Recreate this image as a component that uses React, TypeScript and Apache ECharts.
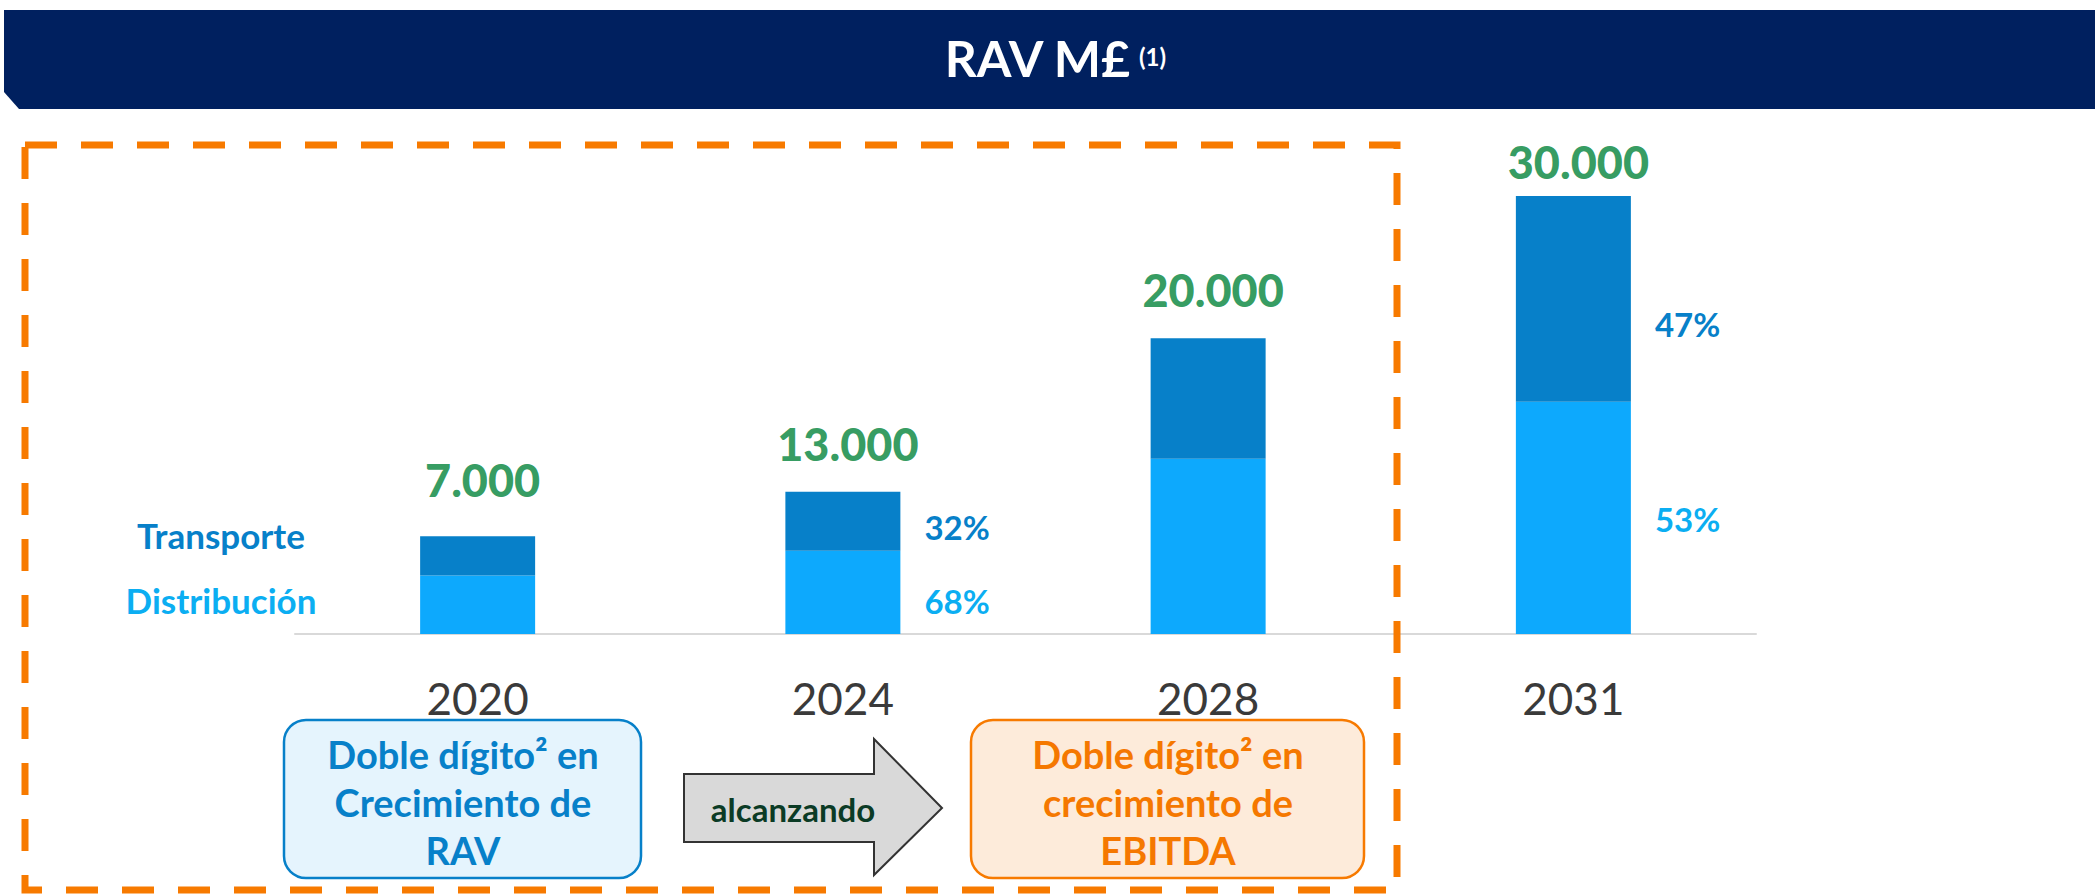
import React, { useEffect, useRef } from "react";
import * as echarts from "echarts";

// ---- data ----
const years = ["2020", "2024", "2028", "2031"];
const distribucion = [4000, 5700, 12000, 15900];
const transporte = [2700, 4050, 8250, 14100];
const totalLabels = ["7.000", "13.000", "20.000", "30.000"];
const transportePct = ["", "32%", "", "47%"];
const distribucionPct = ["", "68%", "", "53%"];

// ---- styles ----
const FONT = "Lato, 'Open Sans', sans-serif";
const C_NAVY = "#00205F";
const C_DARK = "#0780C9";
const C_LIGHT = "#0DA9FD";
const C_LIGHT_TXT = "#0BAEF2";
const C_GREEN = "#008238";
const C_ORANGE = "#F77A00";

const totalLift = [33, 25, 25, 11];
const transPctShift = [0, 6, 0, 25];
const distPctShift = [0, 9, 0, 1];

export default function App() {
  const ref = useRef<HTMLDivElement>(null);

  useEffect(() => {
    if (!ref.current) return;
    const chart = echarts.init(ref.current, undefined, { renderer: "svg" });

    const pctLabel = (color: string) => ({
      position: "right" as const,
      distance: 24,
      color,
      fontSize: 33,
      fontWeight: "bold" as const,
      fontFamily: FONT,
    });

    const boxText = (x: number, text: string, color: string) => ({
      type: "text",
      x,
      y: 802,
      z: 20,
      style: {
        text,
        fill: color,
        fontSize: 38,
        fontWeight: "bold",
        fontFamily: FONT,
        lineHeight: 48,
        align: "center",
        verticalAlign: "middle",
      },
    });

    chart.setOption({
      animation: false,
      backgroundColor: "#ffffff",
      grid: { left: 295, right: 339, top: 196, bottom: 260, containLabel: false },
      xAxis: {
        type: "category",
        data: years,
        axisLine: { lineStyle: { color: "#d9d9d9", width: 2 } },
        axisTick: { show: false },
        axisLabel: {
          margin: 42,
          fontSize: 44,
          color: "#3a3a3a",
          fontFamily: FONT,
        },
      },
      yAxis: {
        type: "value",
        min: 0,
        max: 30000,
        show: false,
        splitLine: { show: false },
      },
      series: [
        {
          name: "Distribución",
          type: "bar",
          stack: "rav",
          barWidth: 115,
          itemStyle: { color: C_LIGHT },
          label: pctLabel(C_LIGHT_TXT),
          data: distribucion.map((v, i) => ({
            value: v,
            label: {
              show: !!distribucionPct[i],
              formatter: distribucionPct[i],
              offset: [0, distPctShift[i]],
            },
          })),
        },
        {
          name: "Transporte",
          type: "bar",
          stack: "rav",
          barWidth: 115,
          itemStyle: { color: C_DARK },
          label: pctLabel(C_DARK),
          data: transporte.map((v, i) => ({
            value: v,
            label: {
              show: !!transportePct[i],
              formatter: transportePct[i],
              offset: [0, transPctShift[i]],
            },
          })),
        },
        {
          name: "Total",
          type: "scatter",
          symbolSize: 1,
          itemStyle: { color: "rgba(0,0,0,0)" },
          z: 10,
          label: {
            show: true,
            position: "top",
            offset: [5, 0],
            color: C_GREEN,
            textBorderWidth: 0,
            fontSize: 45,
            fontWeight: 900,
            fontFamily: FONT,
            formatter: (p: any) => totalLabels[p.dataIndex],
          },
          data: distribucion.map((v, i) => ({
            value: v + transporte[i],
            label: { distance: totalLift[i] },
          })),
        },
      ],
      graphic: [
        {
          type: "polygon",
          z: 1,
          shape: {
            points: [
              [4, 10],
              [2095, 10],
              [2095, 109],
              [19, 109],
              [4, 92],
            ],
          },
          style: { fill: C_NAVY },
        },
        {
          type: "text",
          x: 1130,
          y: 58,
          z: 5,
          style: {
            text: "RAV M£",
            fill: "#ffffff",
            fontSize: 50,
            fontWeight: "bold",
            fontFamily: FONT,
            align: "right",
            verticalAlign: "middle",
          },
        },
        {
          type: "text",
          x: 1139,
          y: 56,
          z: 5,
          style: {
            text: "(1)",
            fill: "#ffffff",
            fontSize: 24,
            fontWeight: "bold",
            fontFamily: FONT,
            align: "left",
            verticalAlign: "middle",
          },
        },
        {
          type: "rect",
          z: 30,
          shape: { x: 25, y: 145, width: 1372, height: 745 },
          style: {
            fill: "none",
            stroke: C_ORANGE,
            lineWidth: 7,
            lineDash: [32, 24],
          },
        },
        {
          type: "text",
          x: 221,
          y: 535,
          z: 5,
          style: {
            text: "Transporte",
            fill: C_DARK,
            fontSize: 35,
            fontWeight: "bold",
            fontFamily: FONT,
            align: "center",
            verticalAlign: "middle",
          },
        },
        {
          type: "text",
          x: 221,
          y: 600,
          z: 5,
          style: {
            text: "Distribución",
            fill: C_LIGHT_TXT,
            fontSize: 35,
            fontWeight: "bold",
            fontFamily: FONT,
            align: "center",
            verticalAlign: "middle",
          },
        },
        {
          type: "rect",
          z: 15,
          shape: { x: 284, y: 720, width: 357, height: 158, r: 22 },
          style: { fill: "#E5F4FD", stroke: C_DARK, lineWidth: 2.5 },
        },
        boxText(463, "Doble dígito² en\nCrecimiento de\nRAV", C_DARK),
        {
          type: "polygon",
          z: 15,
          shape: {
            points: [
              [684, 774],
              [874, 774],
              [874, 739],
              [942, 808],
              [874, 875],
              [874, 842],
              [684, 842],
            ],
          },
          style: { fill: "#D9D9D9", stroke: "#333333", lineWidth: 2 },
        },
        {
          type: "text",
          x: 793,
          y: 809,
          z: 20,
          style: {
            text: "alcanzando",
            fill: "#0B3B25",
            fontSize: 33,
            fontWeight: "bold",
            fontFamily: FONT,
            align: "center",
            verticalAlign: "middle",
          },
        },
        {
          type: "rect",
          z: 15,
          shape: { x: 971, y: 720, width: 393, height: 158, r: 22 },
          style: { fill: "#FDEBDA", stroke: C_ORANGE, lineWidth: 2.5 },
        },
        boxText(1168, "Doble dígito² en\ncrecimiento de\nEBITDA", "#F57800"),
      ],
    });

    return () => chart.dispose();
  }, []);

  return (
    <div
      ref={ref}
      style={{ position: "fixed", left: 0, top: 0, width: 2095, height: 894 }}
    />
  );
}
